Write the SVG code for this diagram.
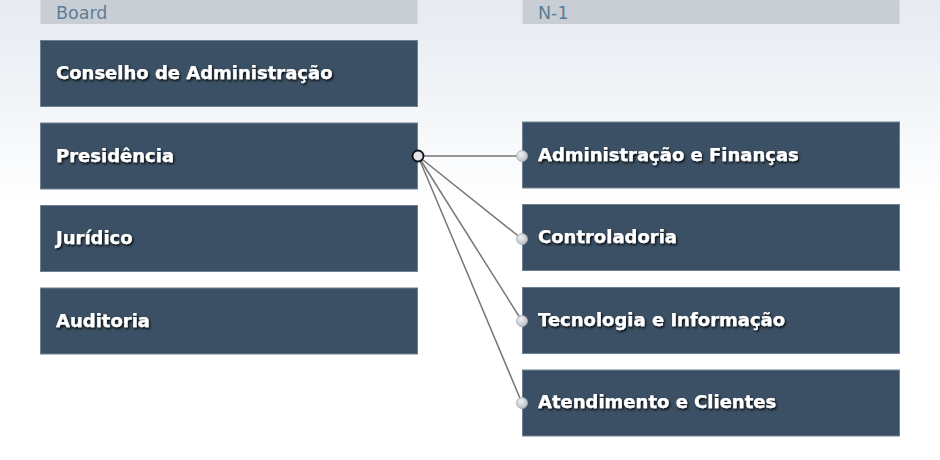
<svg xmlns="http://www.w3.org/2000/svg" width="940" height="460" viewBox="0 0 940 460">
<defs>
<linearGradient id="bg" x1="0" y1="0" x2="0" y2="1">
<stop offset="0" stop-color="#e6ebf1"/>
<stop offset="0.45" stop-color="#ffffff"/>
<stop offset="1" stop-color="#ffffff"/>
</linearGradient>
<filter id="sh" x="-10%" y="-30%" width="120%" height="160%">
<feDropShadow dx="1.2" dy="1.6" stdDeviation="1.1" flood-color="#000" flood-opacity="0.9"/>
</filter>
<radialGradient id="dot" cx="0.4" cy="0.35" r="0.7">
<stop offset="0" stop-color="#eef0f3"/>
<stop offset="1" stop-color="#b9bdc4"/>
</radialGradient>
</defs>
<style>
.hdr{fill:#c9cdd4;}
.hdrt{font-family:"DejaVu Sans",Verdana,sans-serif;font-size:17.5px;fill:#5b7e98;}
.node rect{fill:#3b5064;stroke:#6d8194;stroke-width:1;}
.node text{font-family:"DejaVu Sans",Verdana,sans-serif;font-size:18px;font-weight:bold;fill:#ffffff;stroke:#ffffff;stroke-width:0.25;filter:url(#sh);}
.conn line{stroke:#777777;stroke-width:1.5;}
.end{fill:url(#dot);stroke:#a9adb4;stroke-width:0.8;}
.start{fill:#e4e6ea;stroke:#111111;stroke-width:1.8;}
</style>
<rect x="0" y="0" width="940" height="460" fill="url(#bg)"/>
<g id="header-board"><rect class="hdr" x="40.5" y="0" width="377" height="24"/><text class="hdrt" x="56" y="19">Board</text></g>
<g id="header-n1"><rect class="hdr" x="522.5" y="0" width="377" height="24"/><text class="hdrt" x="538" y="19">N-1</text></g>
<g id="conselho" class="node"><rect x="40.5" y="40.5" width="377" height="66"/><text x="56" y="79">Conselho de Administração</text></g>
<g id="presidencia" class="node"><rect x="40.5" y="123" width="377" height="66"/><text x="56" y="161.5">Presidência</text></g>
<g id="juridico" class="node"><rect x="40.5" y="205.5" width="377" height="66"/><text x="56" y="244">Jurídico</text></g>
<g id="auditoria" class="node"><rect x="40.5" y="288" width="377" height="66"/><text x="56" y="326.5">Auditoria</text></g>
<g id="adm-financas" class="node"><rect x="522.5" y="122" width="377" height="66"/><text x="538" y="160.5">Administração e Finanças</text></g>
<g id="controladoria" class="node"><rect x="522.5" y="204.5" width="377" height="66"/><text x="538" y="243">Controladoria</text></g>
<g id="tecnologia" class="node"><rect x="522.5" y="287.5" width="377" height="66"/><text x="538" y="326">Tecnologia e Informação</text></g>
<g id="atendimento" class="node"><rect x="522.5" y="370" width="377" height="66"/><text x="538" y="408">Atendimento e Clientes</text></g>
<g id="connectors" class="conn">
<line x1="418" y1="156" x2="522" y2="156"/>
<line x1="418" y1="156" x2="522" y2="239"/>
<line x1="418" y1="156" x2="522" y2="321"/>
<line x1="418" y1="156" x2="522" y2="403"/>
<circle class="end" cx="522" cy="156" r="5.5"/>
<circle class="end" cx="522" cy="239" r="5.5"/>
<circle class="end" cx="522" cy="321" r="5.5"/>
<circle class="end" cx="522" cy="403" r="5.5"/>
<circle class="start" cx="418" cy="156" r="5.5"/>
</g>
</svg>
